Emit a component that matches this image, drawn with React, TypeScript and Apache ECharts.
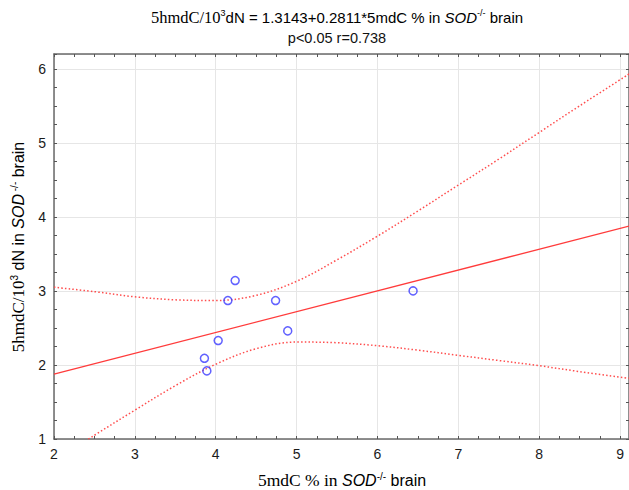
import React, { useEffect, useRef } from "react";
import * as echarts from "echarts";

// Observed points (5mdC %, 5hmdC/10^3 dN)
const pointsX = [3.86, 3.89, 4.03, 4.15, 4.24, 4.74, 4.89, 6.44];
const pointsY = [2.09, 1.92, 2.33, 2.87, 3.14, 2.87, 2.46, 3.0];

// Regression line endpoints (read at left/right edges)
const fitX = [2, 9.11];
const fitY = [1.876, 3.875];

// Confidence band
const bandX = [2, 2.5, 3, 3.5, 4, 4.5, 5, 5.5, 6, 6.5, 7, 7.5, 8, 8.5, 9.11];
const bandUpper = [3.05, 2.99, 2.92, 2.88, 2.87, 2.94, 3.13, 3.42, 3.74, 4.08, 4.43, 4.78, 5.14, 5.5, 5.93];
const bandLower = [0.7, 1.05, 1.39, 1.72, 2.01, 2.22, 2.31, 2.3, 2.26, 2.2, 2.13, 2.06, 1.99, 1.91, 1.82];

const X_MIN = 2;
const X_MAX = 9.11;
const Y_MIN = 1;
const Y_MAX = 6.2;

const SANS = "'Liberation Sans', Arial, sans-serif";
const SERIF = "'Liberation Serif', 'Times New Roman', serif";

const axisLineStyle = { color: "#6a6a6a", width: 1.5 };
const tickLineStyle = { color: "#555", width: 1 };

function richStyles(size: number, serifSize: number) {
  return {
    s: { fontFamily: SERIF, fontSize: serifSize, color: "#111" },
    n: { fontFamily: SANS, fontSize: size, color: "#111" },
    i: { fontFamily: SANS, fontSize: size, fontStyle: "italic", color: "#111" },
    sup: { fontFamily: SANS, fontSize: Math.round(size * 0.62), color: "#111", verticalAlign: "top" },
  };
}

export default function App() {
  const ref = useRef<HTMLDivElement>(null);

  useEffect(() => {
    if (!ref.current) return;
    const chart = echarts.init(ref.current, undefined, { renderer: "svg" });

    const pts = pointsX.map((x, i) => [x, pointsY[i]]);
    const fit = fitX.map((x, i) => [x, fitY[i]]);
    const up = bandX.map((x, i) => [x, bandUpper[i]]);
    const lo = bandX.map((x, i) => [x, bandLower[i]]);

    const tickAxis = (position: string, min: number, max: number, showLine: boolean) => ({
      type: "value",
      position,
      min,
      max,
      interval: 0.25,
      axisLine: { show: showLine, onZero: false, lineStyle: axisLineStyle },
      axisTick: { show: true, inside: true, length: 3, lineStyle: tickLineStyle },
      axisLabel: { show: false },
      splitLine: { show: false },
    });

    chart.setOption({
      animation: false,
      backgroundColor: "#ffffff",
      grid: { left: 54, top: 54, width: 576, height: 385, containLabel: false },
      xAxis: [
        {
          type: "value",
          position: "bottom",
          min: X_MIN,
          max: X_MAX,
          interval: 1,
          axisLine: { show: true, onZero: false, lineStyle: axisLineStyle },
          axisTick: { show: false },
          axisLabel: {
            showMaxLabel: false,
            margin: 8,
            fontSize: 14,
            fontFamily: SANS,
            color: "#1a1a1a",
          },
          splitLine: { show: true, lineStyle: { color: "#e6e6e6", width: 1 } },
        },
        tickAxis("bottom", X_MIN, X_MAX, false),
        tickAxis("top", X_MIN, X_MAX, true),
      ],
      yAxis: [
        {
          type: "value",
          position: "left",
          min: Y_MIN,
          max: Y_MAX,
          interval: 1,
          axisLine: { show: true, onZero: false, lineStyle: axisLineStyle },
          axisTick: { show: false },
          axisLabel: {
            showMaxLabel: false,
            margin: 8,
            fontSize: 14,
            fontFamily: SANS,
            color: "#1a1a1a",
          },
          splitLine: { show: true, lineStyle: { color: "#e6e6e6", width: 1 } },
        },
        tickAxis("left", Y_MIN, Y_MAX, false),
        tickAxis("right", Y_MIN, Y_MAX, true),
      ],
      series: [
        {
          type: "line",
          data: up,
          smooth: 0.35,
          showSymbol: false,
          clip: true,
          lineStyle: { color: "#ff4d4d", width: 1.5, type: [1.5, 2.2] },
          z: 2,
        },
        {
          type: "line",
          data: lo,
          smooth: 0.35,
          showSymbol: false,
          clip: true,
          lineStyle: { color: "#ff4d4d", width: 1.5, type: [1.5, 2.2] },
          z: 2,
        },
        {
          type: "line",
          data: fit,
          showSymbol: false,
          clip: true,
          lineStyle: { color: "#ff3b3b", width: 1.3 },
          z: 3,
        },
        {
          type: "scatter",
          data: pts,
          symbol: "circle",
          symbolSize: 8,
          itemStyle: { color: "rgba(0,0,0,0)", borderColor: "#3a3aff", borderWidth: 1.5 },
          z: 4,
        },
      ],
      graphic: [
        {
          type: "text",
          x: 337,
          y: 17,
          style: {
            text: "{s|5hmdC/10}{sup|3}{n|dN = 1.3143+0.2811*5mdC % in }{i|SOD}{sup|-/-}{n| brain}",
            rich: richStyles(15, 16.5),
            align: "center",
            verticalAlign: "middle",
          },
        },
        {
          type: "text",
          x: 337,
          y: 38,
          style: {
            text: "p<0.05 r=0.738",
            fontFamily: SANS,
            fontSize: 14.5,
            fill: "#111",
            align: "center",
            verticalAlign: "middle",
          },
        },
        {
          type: "text",
          x: 342,
          y: 480,
          style: {
            text: "{s|5mdC % in }{i|SOD}{sup|-/-}{n| brain}",
            rich: richStyles(16, 17.5),
            align: "center",
            verticalAlign: "middle",
          },
        },
        {
          type: "text",
          x: 18,
          y: 247,
          rotation: Math.PI / 2,
          style: {
            text: "{s|5hmdC/10}{sup|3}{n| dN in }{i|SOD}{sup| -/-}{n| brain}",
            rich: richStyles(16, 17),
            align: "center",
            verticalAlign: "middle",
          },
        },
      ],
    });

    return () => chart.dispose();
  }, []);

  return (
    <div
      ref={ref}
      style={{ position: "fixed", left: 0, top: 0, width: 629, height: 490, background: "#fff" }}
    />
  );
}
